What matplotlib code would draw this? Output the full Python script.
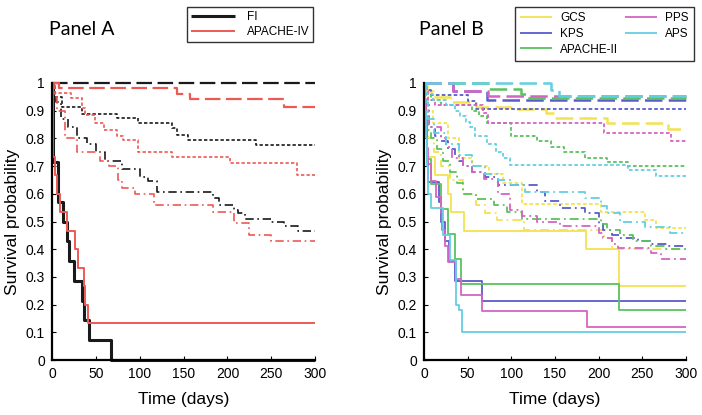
import numpy as np
import matplotlib.pyplot as plt

plt.rcParams['font.family'] = ['Liberation Sans', 'DejaVu Sans']

# Kaplan-Meier curves: (event times, survival after each event)
# four groups per score: 'solid' (lowest) .. 'dashed' (highest)
fi = {
    'solid': ([1, 7, 13, 17, 20, 25, 34, 37, 42, 67],
              [0.714, 0.571, 0.5, 0.429, 0.357, 0.286, 0.214, 0.143, 0.071, 0.0]),
    'dashdot': ([2, 5, 10, 18, 28, 40, 50, 60, 80, 100, 110, 120, 183, 190, 207, 212, 220, 250, 265, 280],
                [0.96, 0.93, 0.87, 0.84, 0.8, 0.78, 0.75, 0.72, 0.69, 0.66, 0.645, 0.605, 0.585, 0.56,
                 0.54, 0.53, 0.51, 0.5, 0.485, 0.465]),
    'dotted': ([3, 11, 34, 74, 98, 137, 142, 155, 233],
               [0.95, 0.912, 0.888, 0.872, 0.854, 0.836, 0.812, 0.796, 0.776]),
    'dashed': ([], []),
}
apache4 = {
    'solid': ([1, 4, 6, 9, 17, 26, 30, 36, 38, 41],
              [0.733, 0.667, 0.6, 0.533, 0.467, 0.4, 0.333, 0.267, 0.2, 0.133]),
    'dashdot': ([2, 6, 15, 28, 55, 65, 75, 80, 95, 116, 184, 207, 224, 250],
                [0.95, 0.9, 0.8, 0.752, 0.72, 0.7, 0.65, 0.62, 0.6, 0.56, 0.535, 0.493, 0.453, 0.43]),
    'dotted': ([3, 22, 34, 38, 49, 59, 74, 81, 98, 137, 203, 279],
               [0.963, 0.946, 0.91, 0.884, 0.854, 0.83, 0.81, 0.794, 0.752, 0.734, 0.71, 0.668]),
    'dashed': ([8, 142, 157, 264], [0.981, 0.959, 0.941, 0.915]),
}

gcs = {
    'solid': ([1, 2, 3, 4, 13, 28, 31, 46, 186, 223],
              [0.933, 0.867, 0.8, 0.733, 0.667, 0.6, 0.533, 0.467, 0.4, 0.267]),
    'dashdot': ([1, 5, 12, 20, 30, 45, 60, 70, 84, 114, 206, 215],
                [0.85, 0.8, 0.75, 0.7, 0.65, 0.6, 0.56, 0.53, 0.505, 0.47, 0.44, 0.4]),
    'dotted': ([2, 5, 10, 27, 40, 55, 75, 90, 112, 203, 253, 266],
               [0.95, 0.9, 0.855, 0.8, 0.73, 0.7, 0.67, 0.64, 0.565, 0.535, 0.505, 0.475]),
    'dashed': ([3, 10, 30, 60, 100, 140, 150, 210, 280],
               [0.97, 0.95, 0.93, 0.915, 0.905, 0.89, 0.872, 0.855, 0.835]),
}
kps = {
    'solid': ([1, 2, 3, 4, 5, 17, 20, 24, 29, 35, 66],
              [0.929, 0.857, 0.786, 0.714, 0.643, 0.571, 0.5, 0.429, 0.357, 0.286, 0.214]),
    'dashdot': ([2, 6, 13, 20, 27, 35, 40, 45, 55, 70, 85, 130, 139, 156, 184, 201, 205, 215, 225, 245, 260, 280],
                [0.92, 0.84, 0.81, 0.79, 0.76, 0.74, 0.72, 0.7, 0.68, 0.66, 0.63, 0.605, 0.575, 0.55,
                 0.53, 0.49, 0.47, 0.45, 0.44, 0.43, 0.42, 0.41]),
    'dotted': ([3, 8, 50, 60], [0.975, 0.957, 0.935, 0.905]),
    'dashed': ([33, 72], [0.972, 0.937]),
}
apache2 = {
    'solid': ([1, 2, 4, 8, 20, 27, 35, 42, 223],
              [0.909, 0.818, 0.727, 0.636, 0.545, 0.455, 0.364, 0.273, 0.182]),
    'dashdot': ([2, 5, 8, 15, 22, 30, 38, 45, 60, 80, 95, 112, 203, 210, 225, 240, 260, 275],
                [0.9, 0.83, 0.8, 0.76, 0.72, 0.68, 0.64, 0.6, 0.58, 0.56, 0.535, 0.51, 0.49, 0.47,
                 0.45, 0.43, 0.41, 0.4]),
    'dotted': ([3, 8, 20, 55, 63, 72, 100, 130, 145, 160, 185, 210, 234],
               [0.96, 0.94, 0.92, 0.9, 0.88, 0.855, 0.81, 0.79, 0.77, 0.75, 0.73, 0.715, 0.7]),
    'dashed': ([74, 111, 120], [0.98, 0.96, 0.945]),
}
pps = {
    'solid': ([1, 2, 3, 4, 5, 8, 14, 19, 21, 24, 28, 37, 42, 66, 187],
              [0.941, 0.882, 0.824, 0.765, 0.706, 0.647, 0.588, 0.529, 0.471, 0.412, 0.353, 0.294,
               0.235, 0.176, 0.118]),
    'dashdot': ([2, 6, 19, 25, 32, 45, 55, 69, 85, 98, 112, 130, 156, 201, 205, 215, 222, 260, 271],
                [0.92, 0.84, 0.8, 0.77, 0.73, 0.7, 0.68, 0.655, 0.6, 0.54, 0.52, 0.5, 0.484, 0.46,
                 0.44, 0.42, 0.405, 0.385, 0.365]),
    'dotted': ([2, 5, 13, 68, 73, 206, 283], [0.97, 0.94, 0.922, 0.89, 0.857, 0.818, 0.792]),
    'dashed': ([33, 73], [0.972, 0.952]),
}
aps = {
    'solid': ([1, 2, 3, 5, 8, 22, 30, 37, 40, 43],
              [0.9, 0.8, 0.7, 0.6, 0.55, 0.45, 0.36, 0.2, 0.18, 0.1]),
    'dashdot': ([2, 5, 12, 25, 40, 55, 70, 85, 100, 116, 184, 203, 210, 224, 253, 282],
                [0.93, 0.87, 0.82, 0.78, 0.74, 0.7, 0.67, 0.65, 0.63, 0.605, 0.585, 0.555, 0.53,
                 0.5, 0.48, 0.46]),
    'dotted': ([3, 10, 25, 35, 41, 48, 53, 58, 72, 83, 90, 98, 234, 266],
               [0.96, 0.94, 0.92, 0.9, 0.88, 0.86, 0.84, 0.81, 0.78, 0.75, 0.73, 0.705, 0.685, 0.665]),
    'dashed': ([145, 155], [0.976, 0.952]),
}

t_end = 300
styles = {
    'solid': dict(linestyle='-'),
    'dashdot': dict(linestyle=(0, (5, 2.2, 1, 2.2))),
    'dotted': dict(linestyle=(0, (2, 1.3))),
    'dashed': dict(linestyle=(0, (7, 2.5))),
}
widths_a = {'solid': 1.4, 'dashdot': 1.2, 'dotted': 1.2, 'dashed': 1.6}
widths_b = {'solid': 1.3, 'dashdot': 1.3, 'dotted': 1.3, 'dashed': 1.8}


def km_line(ax, curve, color, group, lw, label=None):
    t, s = curve
    t = np.concatenate([[0], t, [t_end]])
    s = np.concatenate([[1.0], s, [s[-1] if len(s) else 1.0]])
    return ax.step(t, s, where='post', color=color, lw=lw, label=label, clip_on=False,
                   solid_capstyle='butt', **styles[group])[0]


def style_axes(ax):
    ax.set_xlim(0, 300)
    ax.set_ylim(0, 1)
    ax.set_xticks(np.arange(0, 301, 50))
    ax.set_yticks(np.arange(0, 1.01, 0.1))
    ax.set_yticklabels(['0'] + ['%.1f' % v for v in np.arange(0.1, 0.95, 0.1)] + ['1'])
    for side in ['top', 'right']:
        ax.spines[side].set_visible(False)
    for side in ['left', 'bottom']:
        ax.spines[side].set_linewidth(1.6)
    ax.tick_params(direction='in', length=3, width=0.8, labelsize=10, pad=5)
    ax.set_xlabel('Time (days)', fontsize=12.5, labelpad=8)
    ax.set_ylabel('Survival probability', fontsize=12.5, labelpad=4)


fig = plt.figure(figsize=(7.02, 4.15), dpi=100)
axA = fig.add_axes([0.074, 0.1325, 0.375, 0.6675])
axB = fig.add_axes([0.604, 0.1325, 0.373, 0.6675])

black = '#1a1a1a'
red = '#eb5a55'
hA = []
for g in ['dashed', 'dotted', 'dashdot', 'solid']:
    lw = 2.2 if g == 'solid' else widths_a[g]
    h = km_line(axA, fi[g], black, g, lw)
    if g == 'solid':
        hA.append(h)
for g in ['dashed', 'dotted', 'dashdot', 'solid']:
    h = km_line(axA, apache4[g], red, g, widths_a[g])
    if g == 'solid':
        hA.append(h)
style_axes(axA)

scores = [('GCS', gcs, '#f2e350'), ('KPS', kps, '#5a5ccc'), ('APACHE-II', apache2, '#5cc25e'),
          ('PPS', pps, '#d464c4'), ('APS', aps, '#62cfe2')]
hB = []
for name, curves, color in scores:
    for g in ['dashed', 'dotted', 'dashdot', 'solid']:
        h = km_line(axB, curves[g], color, g, widths_b[g])
        if g == 'solid':
            hB.append(h)
style_axes(axB)

legA = fig.legend(hA, ['FI', 'APACHE-IV'], loc='upper left', bbox_to_anchor=(0.258, 0.997),
                  fontsize=8.5, frameon=True, fancybox=False, handlelength=3.7,
                  borderpad=0.35, labelspacing=0.2, handletextpad=1.0)
legA.get_frame().set_edgecolor('black')
legA.get_frame().set_linewidth(1.0)
legB = fig.legend(hB, [s[0] for s in scores], loc='upper right', bbox_to_anchor=(0.997, 0.997),
                  ncol=2, fontsize=8.5, frameon=True, fancybox=False, handlelength=2.7,
                  borderpad=0.45, labelspacing=0.3, handletextpad=0.7, columnspacing=0.6)
legB.get_frame().set_edgecolor('black')
legB.get_frame().set_linewidth(1.0)

fig.text(0.116, 0.93, 'Panel A', fontsize=14, family=['Lato', 'DejaVu Sans'], ha='center', va='center')
fig.text(0.643, 0.93, 'Panel B', fontsize=14, family=['Lato', 'DejaVu Sans'], ha='center', va='center')

fig.savefig('out.png', dpi=100)
